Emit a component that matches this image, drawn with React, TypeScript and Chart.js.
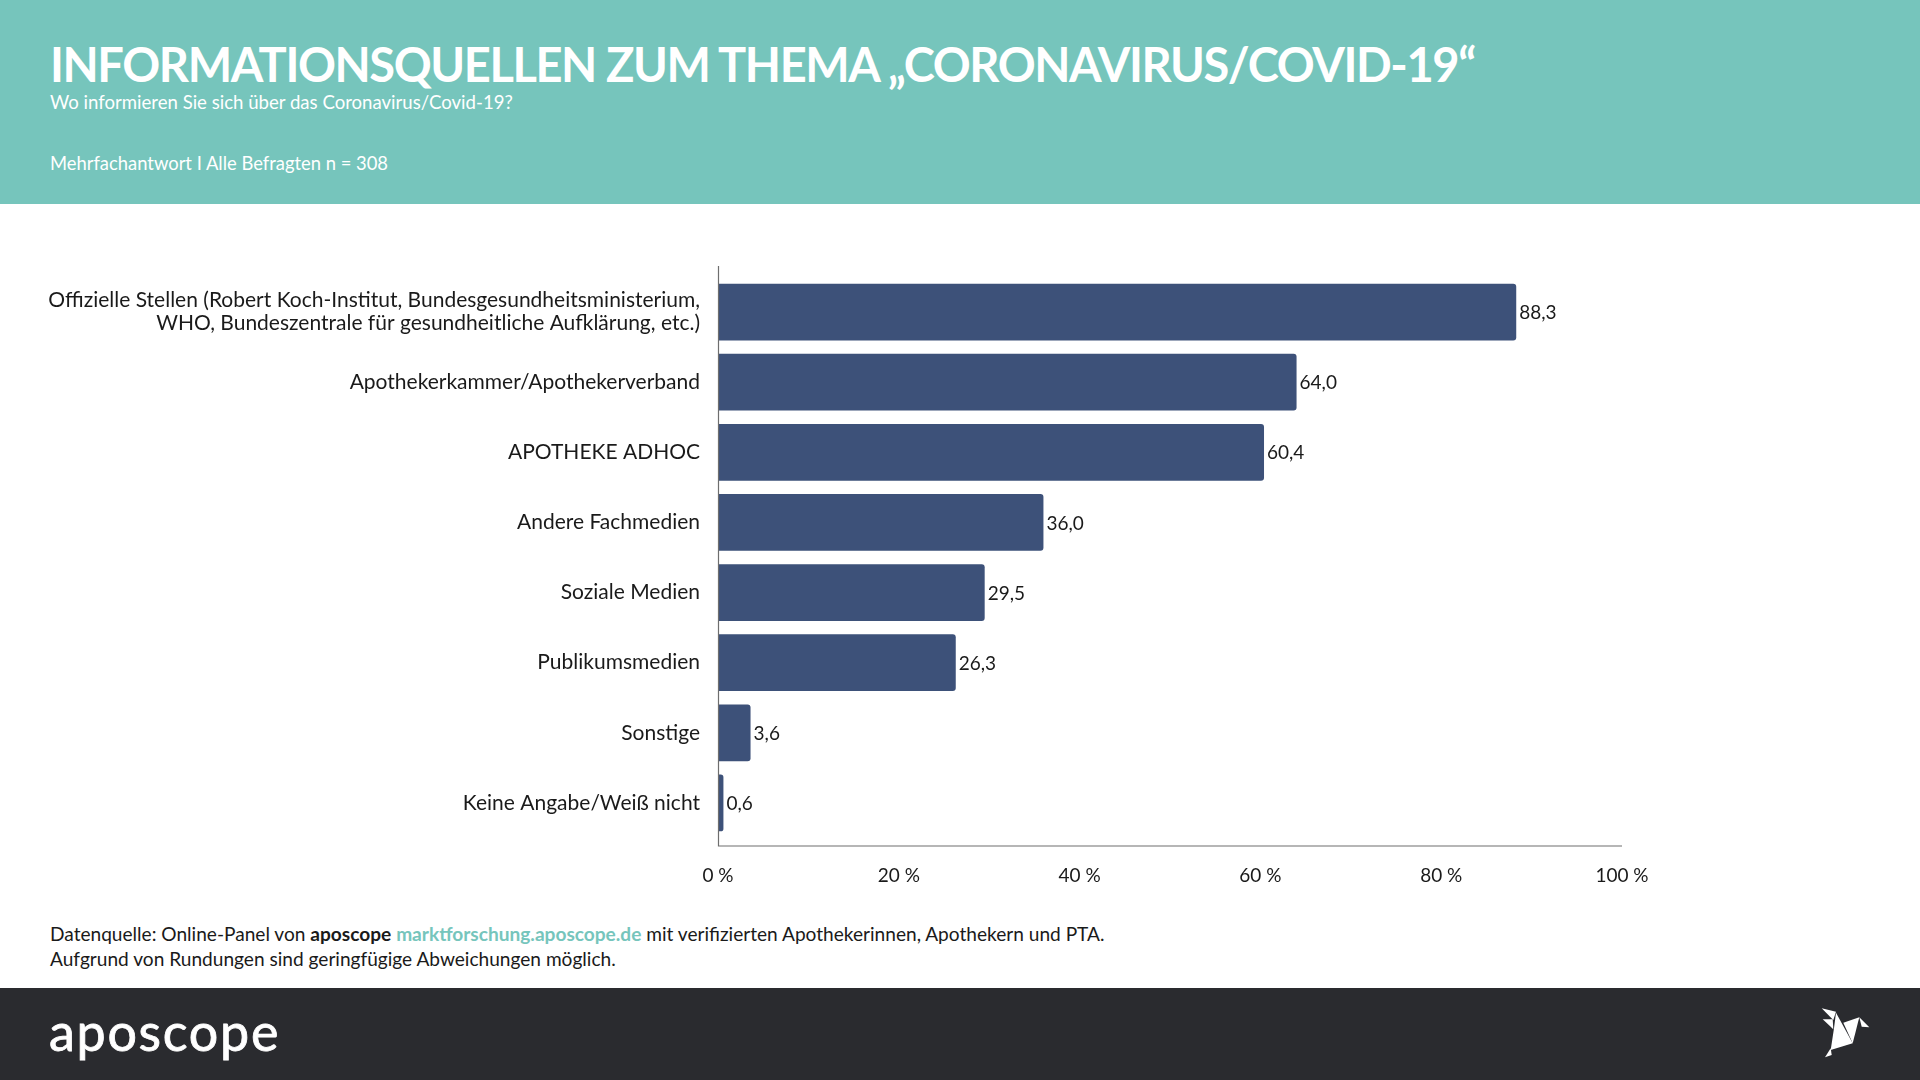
import React, { useEffect, useRef } from "react";
import { Chart, registerables } from "chart.js";

Chart.register(...registerables);

const categories: (string | string[])[] = [
  [
    "Offizielle Stellen (Robert Koch-Institut, Bundesgesundheitsministerium,",
    "WHO, Bundeszentrale für gesundheitliche Aufklärung, etc.)",
  ],
  "Apothekerkammer/Apothekerverband",
  "APOTHEKE ADHOC",
  "Andere Fachmedien",
  "Soziale Medien",
  "Publikumsmedien",
  "Sonstige",
  "Keine Angabe/Weiß nicht",
];
const values = [88.3, 64.0, 60.4, 36.0, 29.5, 26.3, 3.6, 0.6];
const xTickValues = [0, 20, 40, 60, 80, 100];

const title = "INFORMATIONSQUELLEN ZUM THEMA „CORONAVIRUS/COVID-19“";
const subtitle = "Wo informieren Sie sich über das Coronavirus/Covid-19?";
const basis = "Mehrfachantwort I Alle Befragten n = 308";

const FONT = "'Source Sans Pro', Lato, sans-serif";
const TEAL = "#76C5BC";
const BAR = "#3D5179";
const DARK = "#2A2B2F";

const fmt = (v: number) => v.toFixed(1).replace(".", ",");

export default function App() {
  const ref = useRef<HTMLCanvasElement | null>(null);

  useEffect(() => {
    document.body.style.margin = "0";
    if (!ref.current) return;

    const axisLines = {
      id: "axisLines",
      afterDraw(chart: any) {
        const { ctx, chartArea } = chart;
        ctx.save();
        ctx.strokeStyle = "#6E6E6E";
        ctx.lineWidth = 1.2;
        const yLineBottom = chartArea.bottom + 8;
        ctx.beginPath();
        ctx.moveTo(chartArea.left + 0.5, chartArea.top - 11);
        ctx.lineTo(chartArea.left + 0.5, yLineBottom);
        ctx.lineTo(chartArea.right, yLineBottom);
        ctx.stroke();
        ctx.restore();
      },
    };

    const valueLabels = {
      id: "valueLabels",
      afterDatasetsDraw(chart: any) {
        const { ctx } = chart;
        const meta = chart.getDatasetMeta(0);
        ctx.save();
        ctx.fillStyle = "#1A1A1A";
        ctx.font = `19px ${FONT}`;
        ctx.textAlign = "left";
        ctx.textBaseline = "middle";
        meta.data.forEach((bar: any, i: number) => {
          ctx.fillText(fmt(values[i]), bar.x + 3, bar.y + 1);
        });
        ctx.restore();
      },
    };

    const chart = new Chart(ref.current, {
      type: "bar",
      data: {
        labels: categories,
        datasets: [
          {
            data: values,
            backgroundColor: BAR,
            borderRadius: { topRight: 3, bottomRight: 3, topLeft: 0, bottomLeft: 0 },
            borderSkipped: false,
            barPercentage: 0.81,
            categoryPercentage: 1,
          },
        ],
      },
      options: {
        indexAxis: "y",
        animation: false,
        responsive: true,
        maintainAspectRatio: false,
        devicePixelRatio: 1,
        layout: { padding: { top: 77, right: 298, bottom: 0, left: 0 } },
        plugins: {
          legend: { display: false },
          tooltip: { enabled: false },
          title: { display: false },
        },
        scales: {
          x: {
            min: 0,
            max: 100,
            afterBuildTicks(scale: any) {
              scale.ticks = xTickValues.map((v) => ({ value: v }));
            },
            afterFit(scale: any) {
              scale.height = 82;
            },
            grid: { display: false, drawTicks: false },
            border: { display: false },
            ticks: {
              padding: 26,
              color: "#1A1A1A",
              font: { family: FONT, size: 19 },
              callback: (v: any) => `${v} %`,
            },
          },
          y: {
            afterFit(scale: any) {
              scale.width = 718;
            },
            grid: { display: false, drawTicks: false },
            border: { display: false },
            ticks: {
              padding: 18,
              color: "#1A1A1A",
              font: { family: FONT, size: 21, lineHeight: 1.1 },
            },
          },
        },
      },
      plugins: [axisLines, valueLabels],
    });
    return () => chart.destroy();
  }, []);

  return (
    <div
      style={{
        position: "relative",
        width: 1920,
        height: 1080,
        overflow: "hidden",
        background: "#FFFFFF",
        fontFamily: FONT,
      }}
    >
      <div
        style={{
          position: "absolute",
          left: 0,
          top: 0,
          width: 1920,
          height: 204,
          background: TEAL,
        }}
      />
      <div
        style={{
          position: "absolute",
          left: 50,
          top: 41,
          fontSize: 47,
          lineHeight: 1,
          fontWeight: 700,
          color: "#FFFFFF",
          whiteSpace: "nowrap",
          letterSpacing: -1.4,
        }}
      >
        {title}
      </div>
      <div
        style={{
          position: "absolute",
          left: 50,
          top: 93,
          fontSize: 18.6,
          lineHeight: 1,
          color: "#FFFFFF",
          whiteSpace: "nowrap",
        }}
      >
        {subtitle}
      </div>
      <div
        style={{
          position: "absolute",
          left: 50,
          top: 154,
          fontSize: 18.4,
          lineHeight: 1,
          color: "#FFFFFF",
          whiteSpace: "nowrap",
        }}
      >
        {basis}
      </div>

      <div style={{ position: "absolute", left: 0, top: 200, width: 1920, height: 720 }}>
        <canvas ref={ref} />
      </div>

      <div
        style={{
          position: "absolute",
          left: 50,
          top: 921,
          fontSize: 19.1,
          lineHeight: "25px",
          color: "#1A1A1A",
          whiteSpace: "nowrap",
        }}
      >
        <div>
          Datenquelle: Online-Panel von <b>aposcope</b>{" "}
          <b style={{ color: TEAL }}>marktforschung.aposcope.de</b> mit verifizierten
          Apothekerinnen, Apothekern und PTA.
        </div>
        <div>Aufgrund von Rundungen sind geringfügige Abweichungen möglich.</div>
      </div>

      <div
        style={{
          position: "absolute",
          left: 0,
          top: 988,
          width: 1920,
          height: 92,
          background: DARK,
        }}
      />
      <div
        style={{
          position: "absolute",
          left: 49,
          top: 1005,
          fontSize: 52,
          lineHeight: 1,
          color: "#FFFFFF",
          letterSpacing: 1.7,
          fontFamily: "Lato, sans-serif",
          WebkitTextStroke: "0.8px #FFFFFF",
        }}
      >
        aposcope
      </div>
      <svg
        style={{ position: "absolute", left: 0, top: 0 }}
        width={1920}
        height={1080}
        viewBox="0 0 1920 1080"
      >
        <g fill="#FFFFFF">
          <polygon points="1821.7,1008.3 1836,1011.7 1833.3,1020" />
          <polygon points="1822.7,1019.3 1832.7,1019.3 1833.3,1029.3" />
          <polygon points="1836,1012.7 1852.7,1043.3 1830.7,1050 1834,1028.3" />
          <polygon points="1843.3,1022.7 1859.3,1017.3 1852.7,1043.3" />
          <polygon points="1859.3,1017.3 1869.3,1027.3 1861.7,1026.7" />
          <polygon points="1825,1057.3 1830.7,1048.3 1831.7,1055" />
        </g>
      </svg>
    </div>
  );
}
